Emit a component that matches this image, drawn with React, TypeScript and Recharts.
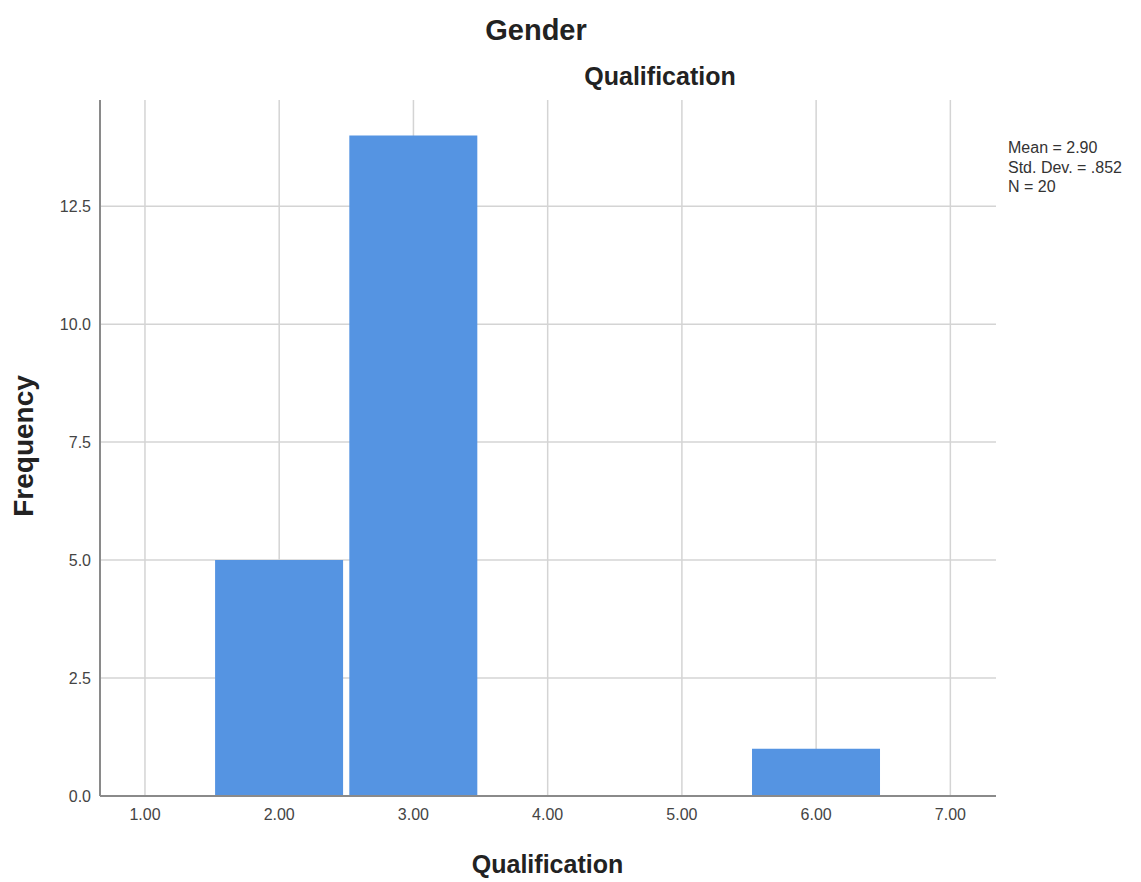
import { BarChart, Bar, XAxis, YAxis, CartesianGrid } from "recharts";

const qualification = [2, 3, 6];
const frequency = [5, 14, 1];
const xTicks = [1, 2, 3, 4, 5, 6, 7];
const yTicks = [0, 2.5, 5, 7.5, 10, 12.5];
const stats = ["Mean = 2.90", "Std. Dev. = .852", "N = 20"];

const data = qualification.map((q, i) => ({ q, count: frequency[i] }));

const FONT = "'Liberation Sans', Arial, sans-serif";
const BAR = "#5594E2";

export default function App() {
  return (
    <div style={{ position: "absolute", left: 0, top: 0, width: 1141, height: 882, background: "#fff" }}>
      <BarChart
        width={1141}
        height={882}
        data={data}
        margin={{ top: 100, right: 145, bottom: 0, left: 0 }}
        style={{ fontFamily: FONT }}
      >
        <CartesianGrid stroke="#d4d4d4" strokeWidth={1.5} verticalValues={xTicks} horizontalValues={yTicks.slice(1)} />
        <XAxis
          dataKey="q"
          type="number"
          domain={[0.665, 7.34]}
          ticks={xTicks}
          allowDataOverflow
          height={86}
          tickSize={0}
          tickMargin={13}
          tickFormatter={(v: number) => v.toFixed(2)}
          tick={{ fill: "#444", fontSize: 16 }}
          axisLine={{ stroke: "#8a8a8a", strokeWidth: 2 }}
        />
        <YAxis
          type="number"
          domain={[0, 14.75]}
          ticks={yTicks}
          allowDataOverflow
          width={100}
          tickSize={0}
          tickMargin={9}
          tickFormatter={(v: number) => v.toFixed(1)}
          tick={{ fill: "#444", fontSize: 16 }}
          axisLine={{ stroke: "#8a8a8a", strokeWidth: 2 }}
        />
        <Bar dataKey="count" fill={BAR} barSize={128} isAnimationActive={false} />
      </BarChart>
      <svg
        width={1141}
        height={882}
        style={{ position: "absolute", left: 0, top: 0, pointerEvents: "none", fontFamily: FONT }}
      >
        <text x={536} y={40} textAnchor="middle" fontSize={29} fontWeight="bold" fill="#222">
          Gender
        </text>
        <text x={660} y={85} textAnchor="middle" fontSize={25} fontWeight="bold" fill="#222">
          Qualification
        </text>
        <text x={547.5} y={873} textAnchor="middle" fontSize={25} fontWeight="bold" fill="#222">
          Qualification
        </text>
        <text
          x={33}
          y={446}
          textAnchor="middle"
          fontSize={28}
          fontWeight="bold"
          fill="#222"
          transform="rotate(-90 33 446)"
        >
          Frequency
        </text>
        {stats.map((s, i) => (
          <text key={s} x={1008} y={153 + i * 19.5} fontSize={16} fill="#333">
            {s}
          </text>
        ))}
      </svg>
    </div>
  );
}
